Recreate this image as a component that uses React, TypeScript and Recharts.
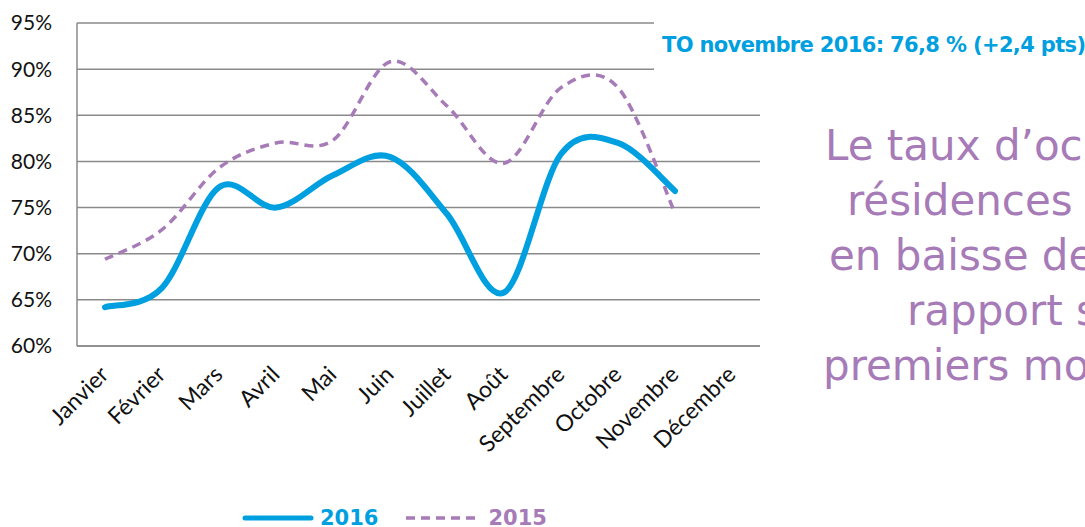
import { LineChart, Line, XAxis, YAxis, CartesianGrid } from 'recharts';

const months = ['Janvier', 'Février', 'Mars', 'Avril', 'Mai', 'Juin', 'Juillet', 'Août', 'Septembre', 'Octobre', 'Novembre', 'Décembre'];
const to2016 = [64.2, 66.3, 77.2, 75.0, 78.5, 80.5, 74.3, 65.8, 80.8, 82.0, 76.8, null];
const to2015 = [69.4, 72.6, 79.3, 82.0, 82.3, 90.8, 86.0, 79.8, 88.0, 88.0, 74.4, null];
const yTicks = [60, 65, 70, 75, 80, 85, 90, 95];
const noteLines = ['Le taux d’oc', 'résidences', 'en baisse de', 'rapport s', 'premiers mo'];

const BLUE = '#00a0e0';
const PURPLE = '#a67bb7';
const GRID = '#8a8a8a';

const data = months.map((m, i) => ({ month: m, y2016: to2016[i], y2015: to2015[i] }));

// Excel-like smoothed line (Catmull-Rom through the points)
function smoothCurve(context: any) {
  let pts: number[][] = [];
  return {
    areaStart() {},
    areaEnd() {},
    lineStart() { pts = []; },
    point(x: number, y: number) { pts.push([+x, +y]); },
    lineEnd() {
      if (!pts.length) return;
      context.moveTo(pts[0][0], pts[0][1]);
      for (let i = 0; i < pts.length - 1; i++) {
        const p0 = pts[i - 1] || pts[i];
        const p1 = pts[i];
        const p2 = pts[i + 1];
        const p3 = pts[i + 2] || p2;
        context.bezierCurveTo(
          p1[0] + (p2[0] - p0[0]) / 6, p1[1] + (p2[1] - p0[1]) / 6,
          p2[0] - (p3[0] - p1[0]) / 6, p2[1] - (p3[1] - p1[1]) / 6,
          p2[0], p2[1]
        );
      }
    },
  };
}

const MonthTick = (props: any) => {
  const { x, y, payload } = props;
  const tx = x - 8;
  const ty = y + 9;
  return (
    <text x={tx} y={ty} transform={`rotate(-45, ${tx}, ${ty})`} textAnchor="end" dominantBaseline="hanging"
      fontFamily="Lato" fontSize={23} fill="#111">
      {payload.value}
    </text>
  );
};

export default function App() {
  return (
    <div style={{ position: 'absolute', left: 0, top: 0, width: 1085, height: 527, overflow: 'hidden', background: '#fff' }}>
      <LineChart width={762} height={527} data={data} margin={{ top: 23, right: 2, bottom: 61, left: 0 }}>
        <CartesianGrid vertical={false} stroke={GRID} strokeWidth={1.5} />
        <XAxis dataKey="month" height={120} interval={0} padding={{ left: 28, right: 28 }}
          axisLine={{ stroke: GRID, strokeWidth: 1.5 }} tickLine={false} tick={<MonthTick />} />
        <YAxis width={77} domain={[60, 95]} ticks={yTicks} tickFormatter={(v: number) => `${v}%`}
          axisLine={{ stroke: GRID, strokeWidth: 1.5 }} tickLine={false} tickSize={0} tickMargin={25}
          tick={{ fontFamily: 'Lato', fontSize: 21, fill: '#111' }} />
        <Line dataKey="y2015" type={smoothCurve as any} stroke={PURPLE} strokeWidth={3.5} strokeDasharray="9 6"
          dot={false} isAnimationActive={false} />
        <Line dataKey="y2016" type={smoothCurve as any} stroke={BLUE} strokeWidth={6} strokeLinecap="round"
          dot={false} isAnimationActive={false} />
      </LineChart>

      <div style={{ position: 'absolute', left: 654, top: 10, width: 440, height: 66, background: '#fff' }}>
        <div style={{ position: 'absolute', left: 8, top: 23, whiteSpace: 'nowrap', fontFamily: 'DejaVu Sans', fontWeight: 'bold',
          fontSize: 21, letterSpacing: -0.65, color: BLUE }}>
          TO novembre 2016: 76,8 % (+2,4 pts)
        </div>
      </div>

      {noteLines.map((t, i) => (
        <div key={t} style={{ position: 'absolute', left: [825, 847, 829, 907, 823][i], top: 121 + i * 55, whiteSpace: 'nowrap',
          fontFamily: 'DejaVu Sans', fontSize: 42, color: PURPLE, lineHeight: '50px' }}>
          {t}
        </div>
      ))}

      <div style={{ position: 'absolute', left: 242, top: 506, display: 'flex', alignItems: 'center', fontFamily: 'DejaVu Sans',
        fontWeight: 'bold', fontSize: 21 }}>
        <svg width={72} height={10}><line x1={3} y1={5} x2={69} y2={5} stroke={BLUE} strokeWidth={5} strokeLinecap="round" /></svg>
        <span style={{ color: BLUE, marginLeft: 6 }}>2016</span>
        <svg width={76} height={10} style={{ marginLeft: 26 }}><line x1={2} y1={5} x2={72} y2={5} stroke={PURPLE} strokeWidth={3.5} strokeDasharray="9 6" /></svg>
        <span style={{ color: PURPLE, marginLeft: 8 }}>2015</span>
      </div>
    </div>
  );
}
